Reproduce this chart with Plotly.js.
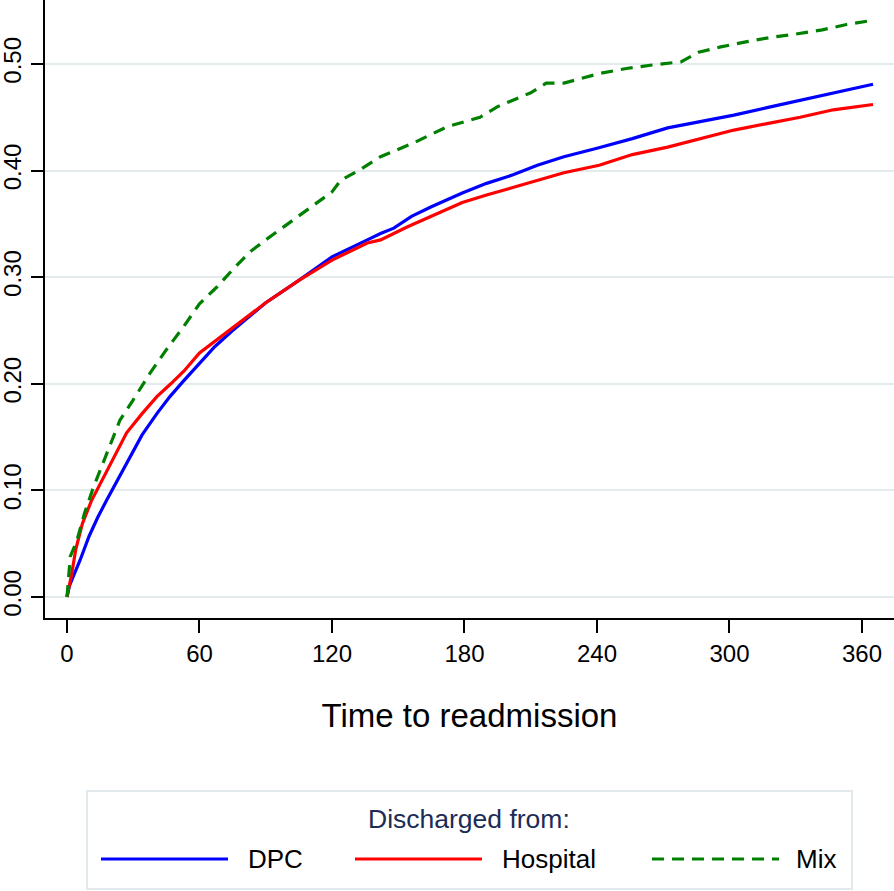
<!DOCTYPE html>
<html>
<head>
<meta charset="utf-8">
<script src="https://cdn.plot.ly/plotly-3.0.1.min.js"></script>
<style>
  html, body { margin: 0; padding: 0; background: #fff; }
  #chart { width: 894px; height: 891px; }
</style>
</head>
<body>
<div id="chart"></div>
<script>
// cumulative readmission
const dpcDays = [0, 1, 3, 6, 10, 14, 18, 23, 28.5, 34, 40.7, 46.6, 52.5, 60, 67, 75, 90, 105, 120, 136, 142, 148, 156, 165, 179, 190, 202, 213, 225, 240, 256, 272, 287, 302, 317, 332, 347, 365]
const dpcVals = [0, 0.01, 0.02, 0.035, 0.057, 0.075, 0.091, 0.11, 0.131, 0.152, 0.172, 0.188, 0.202, 0.219, 0.235, 0.25, 0.276, 0.297, 0.319, 0.335, 0.341, 0.346, 0.357, 0.366, 0.379, 0.388, 0.396, 0.405, 0.413, 0.421, 0.43, 0.44, 0.446, 0.452, 0.459, 0.466, 0.473, 0.481]

const hospDays = [0, 1, 2, 4, 7, 11, 16, 21, 27, 34, 40.7, 47, 53, 60, 67, 75, 90, 105, 120, 136, 142, 154, 165, 179, 190, 202, 213, 225, 241, 256, 272, 287, 302, 317, 332, 347, 365]
const hospVals = [0, 0.01, 0.02, 0.045, 0.069, 0.09, 0.11, 0.13, 0.154, 0.172, 0.188, 0.2, 0.212, 0.229, 0.24, 0.252, 0.276, 0.297, 0.316, 0.332, 0.335, 0.347, 0.357, 0.37, 0.377, 0.384, 0.391, 0.398, 0.405, 0.415, 0.422, 0.43, 0.438, 0.444, 0.45, 0.457, 0.462]

const mixDays = [0, 0.5, 1.5, 4.5, 8, 12, 18, 24, 30, 37.6, 45, 52.6, 60, 68, 75, 83, 90, 98, 105, 113, 120, 124, 132, 142, 157, 172, 187, 195, 210, 217, 225, 241, 254, 265, 278, 286, 296, 308, 319, 330, 342, 353, 365]
const mixVals = [0, 0.016, 0.038, 0.053, 0.079, 0.103, 0.135, 0.166, 0.185, 0.21, 0.232, 0.253, 0.275, 0.291, 0.307, 0.324, 0.335, 0.347, 0.357, 0.369, 0.38, 0.391, 0.4, 0.413, 0.426, 0.441, 0.45, 0.46, 0.473, 0.482, 0.482, 0.491, 0.496, 0.499, 0.502, 0.511, 0.516, 0.521, 0.525, 0.528, 0.532, 0.537, 0.541]

const groups = ['DPC', 'Hospital', 'Mix']
const colors = ['#0000ff', '#ff0000', '#008000']
const dashes = ['solid', 'solid', '12px,8px']

const xTicks = [0, 60, 120, 180, 240, 300, 360]
const yTicks = [0, 0.1, 0.2, 0.3, 0.4, 0.5]
const yTickText = ['0.00', '0.10', '0.20', '0.30', '0.40', '0.50']

const font = 'Liberation Sans, Arial, Helvetica, sans-serif'

const series = [[dpcDays, dpcVals], [hospDays, hospVals], [mixDays, mixVals]]
const traces = series.map((s, i) => ({
    x: s[0], y: s[1], name: groups[i],
    type: 'scatter', mode: 'lines',
    line: { color: colors[i], width: 3.2, dash: dashes[i] },
    showlegend: false
}))

// plot area in pixels, used to place the hand-made legend
const L = 45, T = 0, W = 849, H = 618
const px = v => (v - L) / W
const py = v => (T + H - v) / H

const shapes = [{
    type: 'rect', xref: 'paper', yref: 'paper',
    x0: px(87), x1: px(852), y0: py(889), y1: py(791),
    line: { color: '#e2e9ec', width: 2 }, fillcolor: 'rgba(0,0,0,0)'
}]
const annotations = [{
    xref: 'paper', yref: 'paper', x: px(469), y: py(819),
    xanchor: 'center', yanchor: 'middle',
    text: 'Discharged from:', showarrow: false,
    font: { family: font, size: 26.5, color: '#1c2c55' }
}]
const legX = [[101, 228, 246], [355, 482, 500], [652, 779, 794]]
groups.forEach((g, i) => {
    shapes.push({
        type: 'line', xref: 'paper', yref: 'paper',
        x0: px(legX[i][0]), x1: px(legX[i][1]), y0: py(859), y1: py(859),
        line: { color: colors[i], width: 3.2, dash: dashes[i] }
    })
    annotations.push({
        xref: 'paper', yref: 'paper', x: px(legX[i][2]), y: py(859),
        xanchor: 'left', yanchor: 'middle', text: g, showarrow: false,
        font: { family: font, size: 26, color: '#000' }
    })
})

const layout = {
    width: 894, height: 891,
    margin: { l: L, r: 0, t: T, b: 891 - H },
    paper_bgcolor: '#fff', plot_bgcolor: '#fff',
    font: { family: font, color: '#000' },
    showlegend: false,
    xaxis: {
        range: [-9.96, 374.5], tickvals: xTicks, ticktext: xTicks.map(String),
        showgrid: false, zeroline: false,
        showline: true, linecolor: '#000', linewidth: 2,
        ticks: 'outside', ticklen: 13, tickwidth: 2, tickcolor: '#000',
        tickfont: { size: 24, color: '#000' },
        title: { text: 'Time to readmission', font: { size: 33, color: '#000' }, standoff: 38 }
    },
    yaxis: {
        range: [-0.0197, 0.56], tickvals: yTicks, ticktext: yTickText,
        showgrid: true, gridcolor: '#e3ebed', gridwidth: 2, zeroline: false,
        showline: true, linecolor: '#000', linewidth: 2,
        ticks: 'outside', ticklen: 12, tickwidth: 2, tickcolor: '#000',
        tickangle: -90,
        tickfont: { size: 24, color: '#000' }
    },
    shapes, annotations
}

Plotly.newPlot('chart', traces, layout, { displayModeBar: false, staticPlot: true })
</script>
</body>
</html>
